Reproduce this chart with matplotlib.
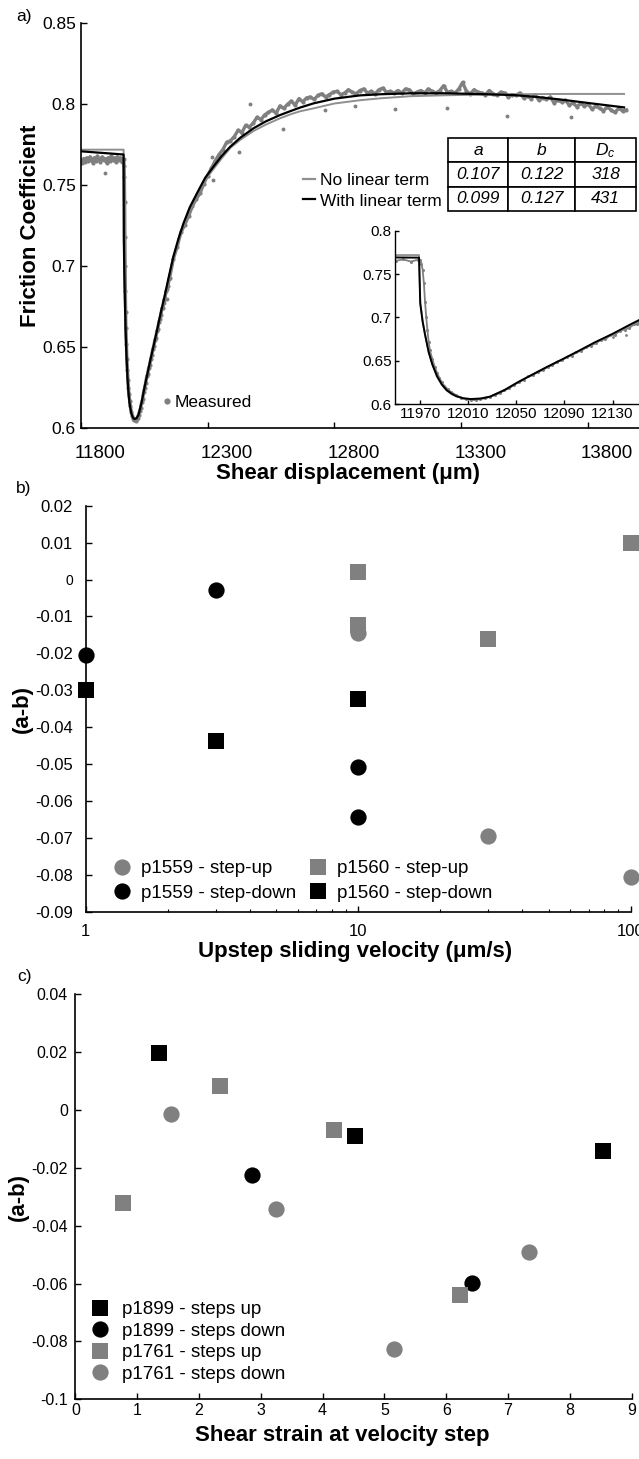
import numpy as np
import matplotlib
matplotlib.use('Agg')
import matplotlib.pyplot as plt
from matplotlib.lines import Line2D
from matplotlib.transforms import ScaledTranslation

plt.rcParams['font.family'] = ['Liberation Sans', 'DejaVu Sans']
plt.rcParams['axes.unicode_minus'] = False
plt.rcParams['mathtext.fontset'] = 'custom'
plt.rcParams['mathtext.it'] = 'Liberation Sans:italic'
plt.rcParams['mathtext.rm'] = 'Liberation Sans'

# ---------------- panel a data (friction vs displacement) ----------------
# measured: plateau before the step (6 um spacing)
meas_plateau = [0.7655, 0.7640, 0.7665, 0.7645, 0.7670, 0.7650, 0.7675, 0.7655,
                0.7640, 0.7670, 0.7650, 0.7680, 0.7660, 0.7645, 0.7675, 0.7655,
                0.7665, 0.7640, 0.7670, 0.7650, 0.7680, 0.7655, 0.7670, 0.7645,
                0.7675, 0.7655, 0.7670, 0.7645, 0.7665]
# measured: drop after the step
meas_drop_x = [11970, 11971, 11972, 11973, 11974, 11975, 11976, 11977, 11978, 11980,
               11982, 11984, 11986, 11988, 11990, 11993, 11996, 12000, 12004, 12008,
               12012, 12016, 12020, 12024, 12028]
meas_drop_y = [0.7660, 0.7620, 0.7550, 0.7400, 0.7180, 0.7000, 0.6850, 0.6720, 0.6620, 0.6520,
               0.6430, 0.6360, 0.6300, 0.6250, 0.6210, 0.6170, 0.6135, 0.6100, 0.6075, 0.6060,
               0.6050, 0.6045, 0.6060, 0.6065, 0.6085]
# measured: early recovery (4 um spacing from 12032)
meas_rise = [0.6105, 0.6125, 0.6160, 0.6180, 0.6225, 0.6250, 0.6280, 0.6320, 0.6335, 0.6375,
             0.6390, 0.6430, 0.6450, 0.6490, 0.6505, 0.6545, 0.6560, 0.6600, 0.6615, 0.6655,
             0.6675, 0.6700, 0.6740, 0.6745, 0.6795, 0.6800, 0.6845, 0.6860, 0.6880, 0.6920]
# measured: rest of the record (15 um spacing from 12150)
meas_tail = [0.6925, 0.7045, 0.7120, 0.7210, 0.7255, 0.7310, 0.7370, 0.7415, 0.7450, 0.7510,
             0.7560, 0.7605, 0.7650, 0.7690, 0.7720, 0.7765, 0.7775, 0.7800, 0.7840, 0.7825,
             0.7870, 0.7860, 0.7885, 0.7920, 0.7905, 0.7935, 0.7950, 0.7965, 0.7945, 0.7990,
             0.7975, 0.8000, 0.8020, 0.7995, 0.8035, 0.8015, 0.8040, 0.8045, 0.8030, 0.8055,
             0.8065, 0.8045, 0.8060, 0.8075, 0.8080, 0.8060, 0.8070, 0.8090, 0.8075, 0.8065,
             0.8085, 0.8095, 0.8070, 0.8080, 0.8065, 0.8090, 0.8100, 0.8075, 0.8080, 0.8070,
             0.8085, 0.8070, 0.8095, 0.8090, 0.8065, 0.8075, 0.8085, 0.8070, 0.8095, 0.8080,
             0.8070, 0.8085, 0.8115, 0.8075, 0.8080, 0.8070, 0.8095, 0.8135, 0.8080, 0.8065,
             0.8090, 0.8075, 0.8070, 0.8060, 0.8085, 0.8065, 0.8055, 0.8075, 0.8070, 0.8045,
             0.8060, 0.8055, 0.8070, 0.8040, 0.8050, 0.8035, 0.8060, 0.8025, 0.8040, 0.8030,
             0.8045, 0.8010, 0.8025, 0.8015, 0.8025, 0.7995, 0.8010, 0.7985, 0.8005, 0.7990,
             0.8000, 0.7970, 0.7990, 0.7975, 0.7960, 0.7985, 0.7965, 0.7950, 0.7975, 0.7960,
             0.7965]
meas_out_x = [11896, 12317, 12323, 12422, 12468, 12597, 12764, 12882, 13040, 13244,
              13481, 13731, 12130, 12141]
meas_out_y = [0.7575, 0.7677, 0.7533, 0.7707, 0.8004, 0.7846, 0.7965, 0.7990, 0.7970, 0.7980,
              0.7928, 0.7924, 0.6775, 0.6800]

meas_x = np.concatenate([11800 + 6 * np.arange(len(meas_plateau)), meas_drop_x,
                         12032 + 4 * np.arange(len(meas_rise)),
                         12150 + 15 * np.arange(len(meas_tail))])
meas_y = np.concatenate([meas_plateau, meas_drop_y, meas_rise, meas_tail])

# fit with linear term (black)
fit_lin_x = [11800, 11969, 11970, 11972, 11974, 11977, 11980, 11984, 11988, 11992, 11996,
             12000, 12006, 12012, 12020, 12028, 12040, 12052, 12062, 12075, 12088, 12100,
             12115, 12130, 12145, 12165, 12185, 12205, 12230, 12258, 12290, 12323, 12355,
             12389, 12430, 12481, 12530, 12586, 12630, 12665, 12718, 12800, 12900, 12981,
             13100, 13244, 13400, 13507, 13600, 13704, 13800, 13941]
fit_lin_y = [0.7710, 0.7690, 0.7160, 0.6950, 0.6800, 0.6600, 0.6460, 0.6320, 0.6225, 0.6160, 0.6120,
             0.6090, 0.6065, 0.6057, 0.6062, 0.6084, 0.6160, 0.6257, 0.6330, 0.6425, 0.6515, 0.6600,
             0.6710, 0.6810, 0.6920, 0.7059, 0.7169, 0.7265, 0.7365, 0.7450, 0.7545, 0.7615, 0.7680,
             0.7738, 0.7795, 0.7852, 0.7895, 0.7934, 0.7960, 0.7980, 0.8006, 0.8035, 0.8055, 0.8062,
             0.8068, 0.8068, 0.8062, 0.8057, 0.8045, 0.8027, 0.8008, 0.7981]
# fit without linear term (gray)
fit_nolin_x = [11800, 11969, 11970, 11972, 11974, 11977, 11980, 11984, 11988, 11992, 11996,
               12000, 12006, 12012, 12020, 12028, 12040, 12052, 12062, 12075, 12088, 12100,
               12115, 12130, 12145, 12165, 12185, 12205, 12230, 12258, 12290, 12323, 12355,
               12389, 12430, 12481, 12530, 12586, 12630, 12665, 12718, 12800, 12900, 12981,
               13100, 13244, 13400, 13507, 13704, 13941]
fit_nolin_y = [0.7720, 0.7720, 0.7180, 0.6960, 0.6805, 0.6600, 0.6455, 0.6315, 0.6220, 0.6155, 0.6115,
               0.6088, 0.6065, 0.6058, 0.6064, 0.6086, 0.6162, 0.6258, 0.6330, 0.6422, 0.6510, 0.6594,
               0.6702, 0.6802, 0.6910, 0.7050, 0.7160, 0.7255, 0.7355, 0.7440, 0.7532, 0.7600, 0.7665,
               0.7730, 0.7782, 0.7835, 0.7875, 0.7914, 0.7940, 0.7957, 0.7975, 0.8005, 0.8025, 0.8037,
               0.8050, 0.8056, 0.8060, 0.8062, 0.8064, 0.8064]

table_cols = ['$\\mathit{a}$', '$\\mathit{b}$', '$\\mathit{D}_{\\mathit{c}}$']
table_rows = [['0.107', '0.122', '318'], ['0.099', '0.127', '431']]

# ---------------- panel b data ----------------
b_up1559_v = [10, 30, 100]
b_up1559 = [-0.0146, -0.0694, -0.0805]
b_dn1559_v = [1, 3, 10, 10]
b_dn1559 = [-0.0205, -0.0028, -0.0509, -0.0644]
b_up1560_v = [10, 10, 30, 100]
b_up1560 = [0.0021, -0.0123, -0.0161, 0.0100]
b_dn1560_v = [1, 3, 10]
b_dn1560 = [-0.0298, -0.0438, -0.0325]

# ---------------- panel c data ----------------
c_up1899_s = [1.35, 4.53, 8.54]
c_up1899 = [0.0196, -0.0090, -0.0142]
c_dn1899_s = [2.85, 6.42]
c_dn1899 = [-0.0223, -0.0598]
c_up1761_s = [0.77, 2.34, 4.19, 6.23]
c_up1761 = [-0.0321, 0.0084, -0.0070, -0.0641]
c_dn1761_s = [1.54, 3.24, 5.16, 7.34]
c_dn1761 = [-0.0015, -0.0341, -0.0826, -0.0491]

GRAY = '#808080'
FITGRAY = '#8f8f8f'
W, H = 639, 1459

fig = plt.figure(figsize=(W / 100, H / 100), dpi=100)


def box(l, t, r, b):
    return [l / W, 1 - b / H, (r - l) / W, (b - t) / H]


def style(ax, size, xpad, ypad, lw=1.2):
    for s in ['top', 'right']:
        ax.spines[s].set_visible(False)
    for s in ['left', 'bottom']:
        ax.spines[s].set_linewidth(lw)
    ax.tick_params(direction='in', length=4, width=1.0, labelsize=size)
    ax.tick_params(axis='x', pad=xpad)
    ax.tick_params(axis='y', pad=ypad)


def ftext(x, y, s, **kw):
    fig.text(x / W, 1 - y / H, s, ha='center', va='center', **kw)


# ---------------- panel a ----------------
ax_a = fig.add_axes(box(80.7, 23.3, 639, 428.3))
ax_a.plot(meas_x, meas_y, '-', color=GRAY, lw=2.4, marker='o', ms=3.0, mew=0)
ax_a.plot(meas_out_x, meas_out_y, 'o', color=GRAY, ms=2.8, mew=0)
ax_a.plot(fit_nolin_x, fit_nolin_y, '-', color=FITGRAY, lw=1.4)
ax_a.plot(fit_lin_x, fit_lin_y, '-', color='black', lw=1.6)
ax_a.set_xlim(11800, 14000)
ax_a.set_ylim(0.6, 0.85)
ax_a.set_xticks([11800, 12300, 12800, 13300, 13800])
ax_a.set_yticks([0.6, 0.65, 0.7, 0.75, 0.8, 0.85])
ax_a.set_yticklabels(['0.6', '0.65', '0.7', '0.75', '0.8', '0.85'])
style(ax_a, 12.5, 12, 3.5)
ax_a.tick_params(axis='x', labelsize=13.5)
shift = ScaledTranslation(0.19, 0, fig.dpi_scale_trans)
for lab in ax_a.get_xticklabels():
    lab.set_transform(lab.get_transform() + shift)

tab = ax_a.table(cellText=[table_cols] + table_rows, cellLoc='center',
                 colWidths=[0.319, 0.353, 0.328],
                 bbox=[0.6583, 0.5373, 0.3372, 0.1787])
tab.auto_set_font_size(False)
for (r, c), cell in tab.get_celld().items():
    cell.set_linewidth(1.2)
    cell.set_text_props(fontsize=12.5, fontstyle='italic')

h_nolin = Line2D([], [], color=FITGRAY, lw=1.6)
h_lin = Line2D([], [], color='black', lw=1.6)
leg_fit = ax_a.legend([h_nolin, h_lin], ['No linear term', 'With linear term'],
                      loc='upper left', bbox_to_anchor=(303 / W, 1 - 173 / H),
                      bbox_transform=fig.transFigure, frameon=False, fontsize=12.5,
                      handlelength=0.7, handletextpad=0.3, labelspacing=0.3,
                      borderpad=0, borderaxespad=0)
ax_a.add_artist(leg_fit)
h_meas = Line2D([], [], ls='none', marker='o', ms=4.5, mew=0, color=GRAY)
ax_a.legend([h_meas], ['Measured'], loc='center left',
            bbox_to_anchor=(162.5 / W, 1 - 402 / H), bbox_transform=fig.transFigure,
            frameon=False, fontsize=12.5, handlelength=0.5, handletextpad=0.2,
            borderpad=0, borderaxespad=0)

# inset
ax_in = fig.add_axes(box(395, 230.8, 639, 404))
ax_in.patch.set_alpha(0)
ax_in.plot(meas_x, meas_y, '-', color=GRAY, lw=1.3, marker='o', ms=2.2, mew=0)
ax_in.plot(meas_out_x, meas_out_y, 'o', color=GRAY, ms=2.0, mew=0)
ax_in.plot(fit_nolin_x, fit_nolin_y, '-', color=FITGRAY, lw=1.3)
ax_in.plot(fit_lin_x, fit_lin_y, '-', color='black', lw=1.4)
ax_in.set_xlim(11949, 12152)
ax_in.set_ylim(0.6, 0.8)
ax_in.set_xticks([11970, 12010, 12050, 12090, 12130])
ax_in.set_yticks([0.6, 0.65, 0.7, 0.75, 0.8])
ax_in.set_yticklabels(['0.6', '0.65', '0.7', '0.75', '0.8'])
style(ax_in, 11, 2.5, 2.5, lw=1.0)
ax_in.tick_params(length=3)

ftext(24, 16, 'a)', fontsize=12.5)
ftext(30.5, 226, 'Friction Coefficient', rotation=90, fontsize=16, fontweight='bold')
ftext(347.5, 474, 'Shear displacement (\u03bcm)', fontsize=16, fontweight='bold')

# ---------------- panel b ----------------
ax_b = fig.add_axes(box(85.6, 505.7, 630.8, 911.7))
ms = 11.7
ax_b.plot(b_up1559_v, b_up1559, 'o', color=GRAY, ms=ms, mew=0, clip_on=False,
          label='p1559 - step-up')
ax_b.plot(b_dn1559_v, b_dn1559, 'o', color='black', ms=ms, mew=0, clip_on=False,
          label='p1559 - step-down')
ax_b.plot(b_up1560_v, b_up1560, 's', color=GRAY, ms=ms, mew=0, clip_on=False,
          label='p1560 - step-up')
ax_b.plot(b_dn1560_v, b_dn1560, 's', color='black', ms=ms, mew=0, clip_on=False,
          label='p1560 - step-down')
ax_b.set_xscale('log')
ax_b.set_xlim(1, 100)
ax_b.set_ylim(-0.09, 0.02)
ax_b.set_xticks([1, 10, 100])
ax_b.set_xticklabels(['1', '10', '100'])
b_ticks = [-0.09, -0.08, -0.07, -0.06, -0.05, -0.04, -0.03, -0.02, -0.01, 0, 0.01, 0.02]
ax_b.set_yticks(b_ticks)
ax_b.set_yticklabels(['-0.09', '-0.08', '-0.07', '-0.06', '-0.05', '-0.04', '-0.03',
                      '-0.02', '-0.01', '0', '0.01', '0.02'])
style(ax_b, 12, 9, 9)
ax_b.tick_params(which='minor', direction='in', length=2.5, width=0.8)
for lab in ax_b.get_yticklabels():
    if lab.get_text() == '0':
        lab.set_fontsize(10)
ax_b.legend(loc='upper left', bbox_to_anchor=(113.5 / W, 1 - 860 / H),
            bbox_transform=fig.transFigure, ncol=2, frameon=False, fontsize=13.5,
            handlelength=0.9, handletextpad=0.55, labelspacing=0.4, columnspacing=0.75,
            borderpad=0, borderaxespad=0)

ftext(24, 489, 'b)', fontsize=12.5)
ftext(22, 709, '(a-b)', rotation=90, fontsize=16, fontweight='bold')
ftext(354.8, 952, 'Upstep sliding velocity (\u03bcm/s)', fontsize=16, fontweight='bold')

# ---------------- panel c ----------------
ax_c = fig.add_axes(box(75.4, 994.3, 631.6, 1399.3))
ax_c.plot(c_up1899_s, c_up1899, 's', color='black', ms=ms, mew=0, clip_on=False,
          label='p1899 - steps up')
ax_c.plot(c_dn1899_s, c_dn1899, 'o', color='black', ms=ms, mew=0, clip_on=False,
          label='p1899 - steps down')
ax_c.plot(c_up1761_s, c_up1761, 's', color=GRAY, ms=ms, mew=0, clip_on=False,
          label='p1761 - steps up')
ax_c.plot(c_dn1761_s, c_dn1761, 'o', color=GRAY, ms=ms, mew=0, clip_on=False,
          label='p1761 - steps down')
ax_c.set_xlim(0, 9)
ax_c.set_ylim(-0.1, 0.04)
ax_c.set_xticks(range(10))
ax_c.set_yticks([-0.1, -0.08, -0.06, -0.04, -0.02, 0, 0.02, 0.04])
ax_c.set_yticklabels(['-0.1', '-0.08', '-0.06', '-0.04', '-0.02', '0', '0.02', '0.04'])
style(ax_c, 11.5, 3, 5.5)
ax_c.legend(loc='upper left', bbox_to_anchor=(91.5 / W, 1 - 1301 / H),
            bbox_transform=fig.transFigure, frameon=False, fontsize=13.5,
            handlelength=0.9, handletextpad=0.7, labelspacing=0.24,
            borderpad=0, borderaxespad=0)

ftext(24, 976, 'c)', fontsize=12.5)
ftext(18, 1197, '(a-b)', rotation=90, fontsize=16, fontweight='bold')
ftext(342.7, 1435, 'Shear strain at velocity step', fontsize=16, fontweight='bold')

fig.savefig('out.png', dpi=100)
